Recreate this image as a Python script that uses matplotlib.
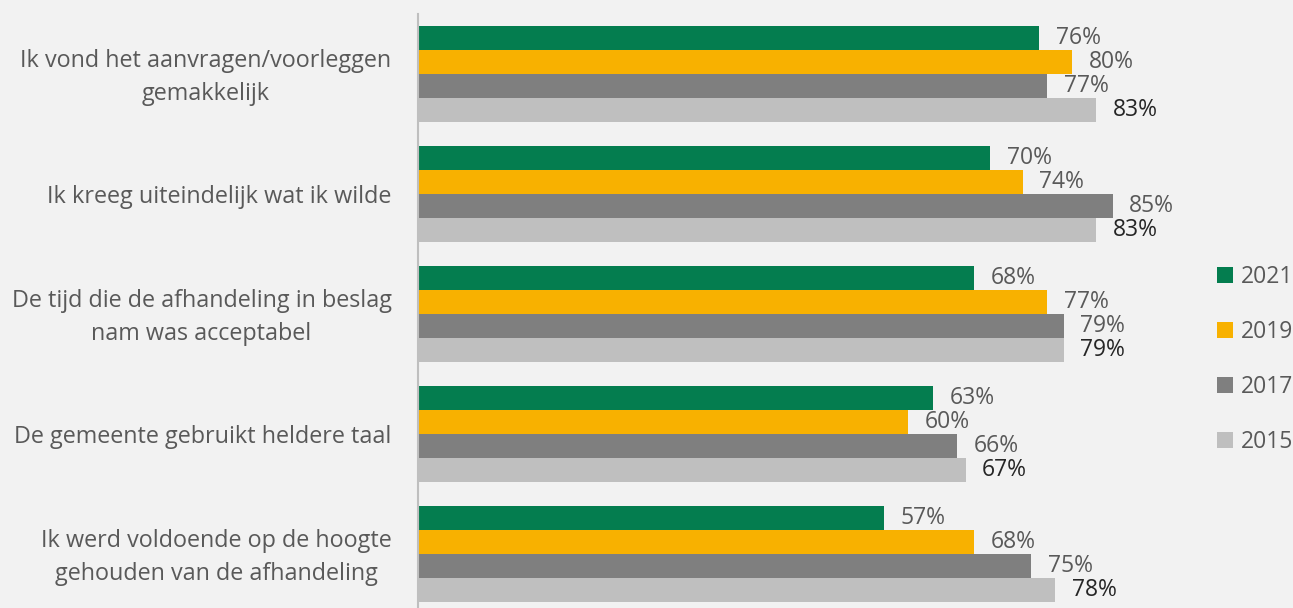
import matplotlib.pyplot as plt
import matplotlib.transforms as mtransforms
import numpy as np

plt.rcParams['font.family'] = ['Open Sans', 'DejaVu Sans']

categories = [
    "Ik vond het aanvragen/voorleggen\ngemakkelijk",
    "Ik kreeg uiteindelijk wat ik wilde",
    "De tijd die de afhandeling in beslag\nnam was acceptabel",
    "De gemeente gebruikt heldere taal",
    "Ik werd voldoende op de hoogte\ngehouden van de afhandeling",
]
years = ["2021", "2019", "2017", "2015"]
v2021 = [76, 70, 68, 63, 57]
v2019 = [80, 74, 77, 60, 68]
v2017 = [77, 85, 79, 66, 75]
v2015 = [83, 83, 79, 67, 78]

colors = ["#047d4f", "#f8b100", "#7f7f7f", "#bfbfbf"]
label_colors = ["#595959", "#595959", "#595959", "#262626"]
bg = "#f2f2f2"

W, H = 1293, 608
fig = plt.figure(figsize=(W / 100, H / 100), dpi=100, facecolor=bg)
# axes: left at x=418, top at y=14, 120 px per category
ax = fig.add_axes([418 / W, 1 - 614 / H, (1241 - 418) / W, 600 / H])
ax.set_facecolor(bg)

series = [v2021, v2019, v2017, v2015]
y = np.arange(len(categories))
h = 0.2
for i, (vals, c, lc, yr) in enumerate(zip(series, colors, label_colors, years)):
    pos = y - 0.3 + i * h
    ax.barh(pos, vals, height=h, color=c, label=yr)
    for p, v in zip(pos, vals):
        ax.annotate(f"{v}%", (v, p), xytext=(12, 0), textcoords="offset points",
                    va="center", ha="left", fontsize=16.5, color=lc)

ax.set_xlim(0, 100.7)
ax.set_ylim(4.5, -0.5)
ax.set_xticks([])
ax.set_yticks(y)
ax.set_yticklabels(categories, fontsize=16.8, color="#595959", multialignment="center",
                   linespacing=1.5)
ax.tick_params(axis="y", length=0, pad=19)
# two-line labels sit a little higher in the original
shift = mtransforms.ScaledTranslation(0, 3 / 72, fig.dpi_scale_trans)
for lbl in ax.get_yticklabels():
    if "\n" in lbl.get_text():
        lbl.set_transform(lbl.get_transform() + shift)
for s in ["top", "right", "bottom"]:
    ax.spines[s].set_visible(False)
ax.spines["left"].set_color("#bfbfbf")
ax.spines["left"].set_linewidth(1.5)

leg = fig.legend(loc="upper left", bbox_to_anchor=(1208 / W, 1 - 256 / H), frameon=False,
                 fontsize=16.5, labelcolor="#595959", handlelength=0.7, handleheight=0.7,
                 handletextpad=0.35, labelspacing=1.35, borderaxespad=0)

fig.savefig("out.png", dpi=100, facecolor=bg)
